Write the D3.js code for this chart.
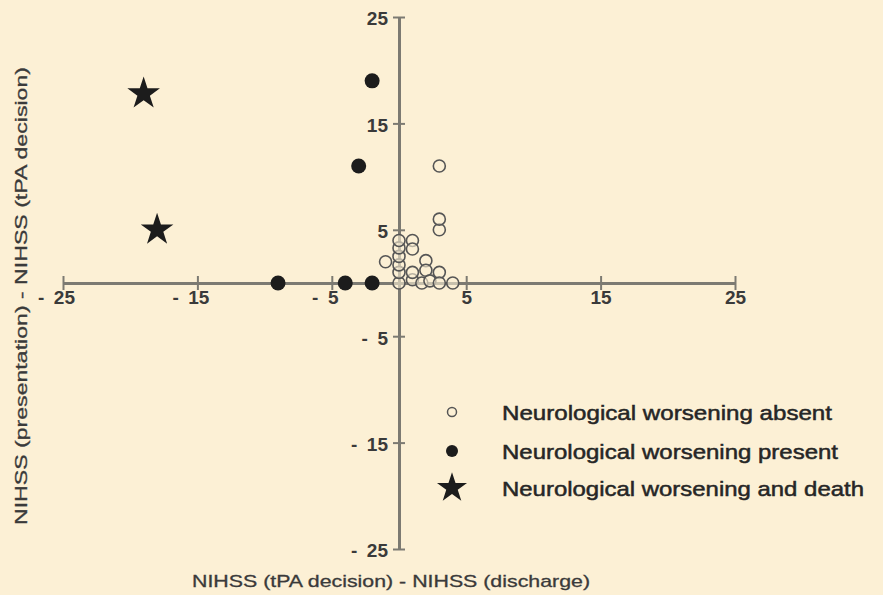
<!DOCTYPE html>
<html lang="en">
  <head>
    <meta charset="utf-8">
    <title>NIHSS change scatter</title>
    <script src="https://cdn.jsdelivr.net/npm/d3@7"></script>
    <style>
      body { margin: 0; background: #fcf0d5; }
      svg { display: block; }
    </style>
  </head>
  <body>
    <div id="chart"></div>
    <script>
      // values: [x, y]
      let absent = [
        [0, 0], [0, 1], [0, 1.7], [0, 2.5], [0, 3.3], [0, 4],
        [1, 4], [1, 3.2], [-1, 2], [1, 0.3], [1, 1], [1.7, 0],
        [2, 2.1], [2, 1.2], [2.3, 0.2], [3, 1], [3, 0], [4, 0],
        [3, 5], [3, 6], [3, 11]
      ];
      let present = [[-2, 19], [-3, 11], [-9, 0], [-4, 0], [-2, 0]];
      let death = [[-19, 17.8], [-18, 5]];

      let xTicks = [-25, -15, -5, 5, 15, 25];
      let yTicks = [-25, -15, -5, 5, 15, 25];
      let legendLabels = [
        'Neurological worsening absent',
        'Neurological worsening present',
        'Neurological worsening and death'
      ];
      let xTitle = 'NIHSS (tPA decision) - NIHSS (discharge)';
      let yTitle = 'NIHSS (presentation) - NIHSS (tPA decision)';

      let width = 883;
      let height = 595;
      let font = '"Liberation Sans", Arial, Helvetica, sans-serif';
      let axisColor = '#7c7a72';
      let inkColor = '#262626';

      let svg = d3.select('#chart').append('svg')
        .attr('width', width)
        .attr('height', height)
        .style('background', '#fcf0d5');

      let x = d3.scaleLinear().domain([-25, 25]).range([63, 735]);
      let y = d3.scaleLinear().domain([-25, 25]).range([549, 17]);

      let fmt = (d) => d < 0 ? '-\u2002' + Math.abs(d) : String(d);

      // x axis through y = 0
      let gx = svg.append('g')
        .attr('transform', `translate(0,${y(0)})`)
        .call(d3.axisBottom(x).tickValues(xTicks).tickSize(7).tickSizeOuter(0).tickFormat(fmt));
      gx.select('.domain').attr('stroke', axisColor).attr('stroke-width', 3);
      gx.selectAll('.tick line')
        .attr('y1', -7).attr('y2', 7)
        .attr('stroke', axisColor).attr('stroke-width', 2);
      gx.selectAll('.tick text')
        .attr('y', 21)
        .attr('dx', (d) => d < 0 ? -7 : 0)
        .attr('dy', 0)
        .attr('font-family', font)
        .attr('font-size', '19px')
        .attr('font-weight', 'bold')
        .attr('fill', '#3a3a3a');

      // y axis through x = 0
      let gy = svg.append('g')
        .attr('transform', `translate(${x(0)},0)`)
        .call(d3.axisLeft(y).tickValues(yTicks).tickSize(6).tickSizeOuter(0).tickFormat(fmt));
      gy.select('.domain').attr('stroke', axisColor).attr('stroke-width', 3);
      gy.selectAll('.tick line')
        .attr('x1', -6).attr('x2', 6)
        .attr('stroke', axisColor).attr('stroke-width', 2);
      gy.selectAll('.tick text')
        .attr('x', -11)
        .attr('dy', '0.42em')
        .attr('font-family', font)
        .attr('font-size', '19px')
        .attr('font-weight', 'bold')
        .attr('fill', '#3a3a3a');

      // points
      svg.append('g').selectAll('circle')
        .data(absent)
        .enter()
        .append('circle')
        .attr('cx', (d) => x(d[0]))
        .attr('cy', (d) => y(d[1]))
        .attr('r', 6)
        .attr('fill', '#fcf0d5')
        .attr('fill-opacity', 0.6)
        .attr('stroke', '#555')
        .attr('stroke-width', 1.6);

      svg.append('g').selectAll('circle')
        .data(present)
        .enter()
        .append('circle')
        .attr('cx', (d) => x(d[0]))
        .attr('cy', (d) => y(d[1]))
        .attr('r', 7.5)
        .attr('fill', '#1c1c1c');

      let star = d3.symbol().type(d3.symbolStar).size(330);
      svg.append('g').selectAll('path')
        .data(death)
        .enter()
        .append('path')
        .attr('d', star)
        .attr('transform', (d) => `translate(${x(d[0])},${y(d[1])})`)
        .attr('fill', '#1c1c1c');

      // legend
      let legendWidths = [330, 336, 362];
      let legend = svg.append('g').attr('transform', 'translate(452,412)');
      legendLabels.forEach((label, i) => {
        let row = legend.append('g').attr('transform', `translate(0,${[0, 39, 76][i]})`);
        if (i === 0) {
          row.append('circle').attr('r', 4.5).attr('fill', 'none')
            .attr('stroke', '#555').attr('stroke-width', 1.5);
        } else if (i === 1) {
          row.append('circle').attr('r', 6).attr('fill', '#1c1c1c');
        } else {
          row.append('path').attr('d', d3.symbol().type(d3.symbolStar).size(280)).attr('fill', '#1c1c1c');
        }
        row.append('text')
          .attr('x', 50)
          .attr('dy', '0.36em')
          .attr('font-family', font)
          .attr('font-size', '21px')
          .attr('textLength', legendWidths[i])
          .attr('lengthAdjust', 'spacingAndGlyphs')
          .attr('fill', inkColor)
          .attr('stroke', inkColor)
          .attr('stroke-width', 0.5)
          .text(label);
      });

      // axis titles
      svg.append('text')
        .attr('x', 391)
        .attr('y', 587)
        .attr('text-anchor', 'middle')
        .attr('font-family', font)
        .attr('font-size', '17px')
        .attr('textLength', 398)
        .attr('lengthAdjust', 'spacingAndGlyphs')
        .attr('fill', '#3a3a3a')
        .attr('stroke', '#3a3a3a')
        .attr('stroke-width', 0.3)
        .text(xTitle);

      svg.append('text')
        .attr('transform', 'translate(27,296) rotate(-90)')
        .attr('text-anchor', 'middle')
        .attr('font-family', font)
        .attr('font-size', '17px')
        .attr('textLength', 458)
        .attr('lengthAdjust', 'spacingAndGlyphs')
        .attr('fill', '#3a3a3a')
        .attr('stroke', '#3a3a3a')
        .attr('stroke-width', 0.3)
        .text(yTitle);
    </script>
  </body>
</html>
